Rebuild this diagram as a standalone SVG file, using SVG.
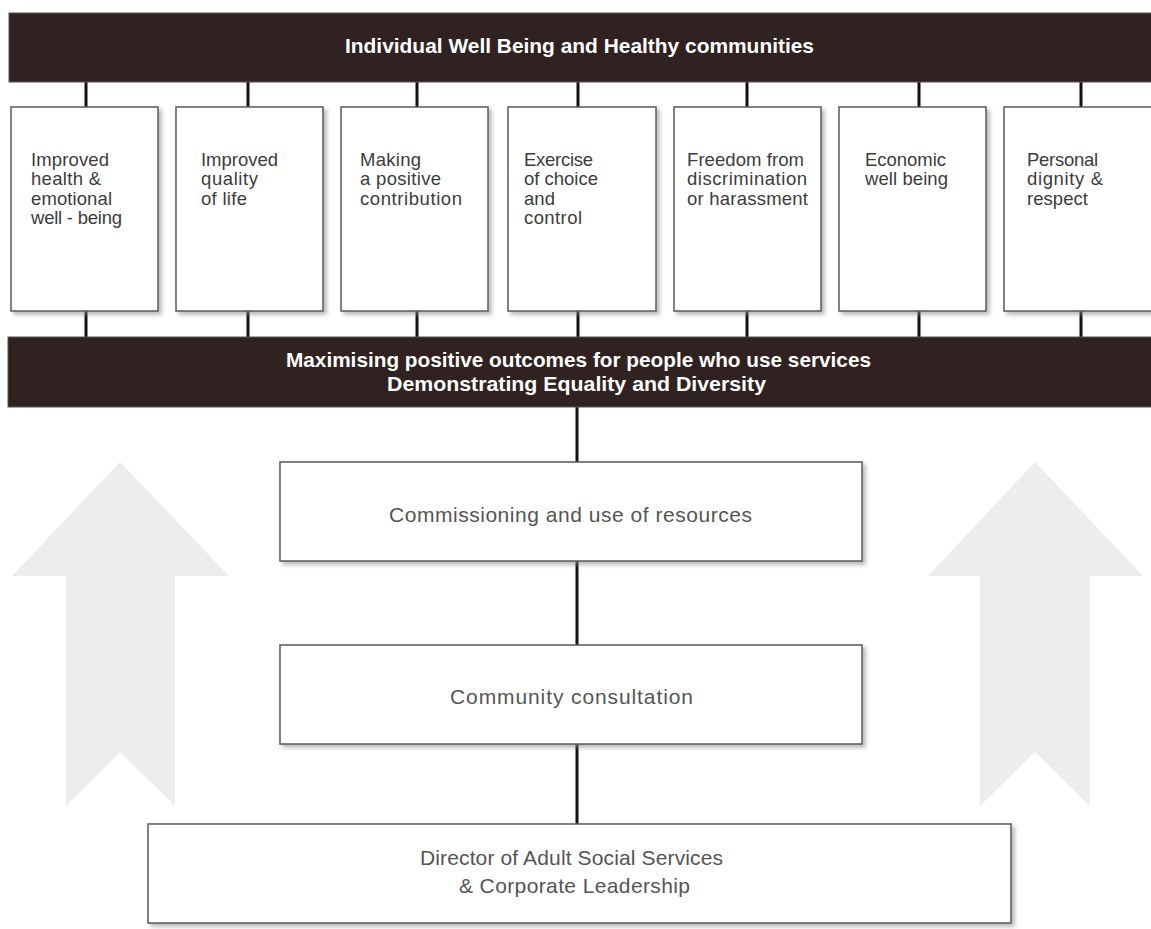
<svg xmlns="http://www.w3.org/2000/svg" width="1151" height="929" viewBox="0 0 1151 929">
<style>
.bar{fill:#2f2221;stroke:#555;stroke-width:1}
.bt{font-family:"Liberation Sans",Arial,sans-serif;font-weight:bold;font-size:21px;fill:#fff;text-anchor:middle}
.box{fill:#fff;stroke:#5a5a5a;stroke-width:1.5;filter:url(#sh)}
.st{font-family:"Liberation Sans",Arial,sans-serif;font-size:18.5px;fill:#3c3c3c}
.mt{font-family:"Liberation Sans",Arial,sans-serif;font-size:21px;fill:#555;text-anchor:middle}
.arr{fill:#ededed}
.con line{stroke:#111;stroke-width:3}
</style>
<defs>
<filter id="sh" x="-10%" y="-10%" width="130%" height="130%">
<feDropShadow dx="3" dy="3" stdDeviation="2" flood-color="#888" flood-opacity="0.6"/>
</filter>
</defs>
<rect width="1151" height="929" fill="#fff"/>
<g id="arrows">
<polygon class="arr" points="120,462 229,576 175,576 175,806 120,752 66,806 66,576 12,576"/>
<polygon class="arr" points="1035,462 1143,576 1090,576 1090,806 1035,752 980,806 980,576 928,576"/>
</g>
<g class="con" id="connectors">
<line x1="86" y1="82" x2="86" y2="107"/><line x1="248" y1="82" x2="248" y2="107"/>
<line x1="417" y1="82" x2="417" y2="107"/><line x1="578" y1="82" x2="578" y2="107"/>
<line x1="747" y1="82" x2="747" y2="107"/><line x1="919" y1="82" x2="919" y2="107"/>
<line x1="1081" y1="82" x2="1081" y2="107"/>
<line x1="86" y1="311" x2="86" y2="337"/><line x1="248" y1="311" x2="248" y2="337"/>
<line x1="417" y1="311" x2="417" y2="337"/><line x1="578" y1="311" x2="578" y2="337"/>
<line x1="747" y1="311" x2="747" y2="337"/><line x1="919" y1="311" x2="919" y2="337"/>
<line x1="1081" y1="311" x2="1081" y2="337"/>
<line x1="577" y1="407" x2="577" y2="462"/>
<line x1="577" y1="561" x2="577" y2="645"/>
<line x1="577" y1="744" x2="577" y2="824"/>
</g>
<g id="top-bar">
<rect class="bar" x="9" y="13" width="1145" height="69"/>
<text class="bt" x="579.5" y="53" textLength="469" lengthAdjust="spacingAndGlyphs">Individual Well Being and Healthy communities</text>
</g>
<g id="box1">
<rect class="box" x="11" y="107" width="147" height="204"/>
<text class="st"><tspan x="31" y="166" textLength="78">Improved</tspan><tspan x="31" y="185" textLength="70">health &amp;</tspan><tspan x="31" y="204.5" textLength="81">emotional</tspan><tspan x="31" y="224" textLength="91">well - being</tspan></text>
</g>
<g id="box2">
<rect class="box" x="176" y="107" width="147" height="204"/>
<text class="st"><tspan x="201" y="166" textLength="77">Improved</tspan><tspan x="201" y="185" textLength="57">quality</tspan><tspan x="201" y="204.5" textLength="46">of life</tspan></text>
</g>
<g id="box3">
<rect class="box" x="341" y="107" width="147" height="204"/>
<text class="st"><tspan x="360" y="166" textLength="61">Making</tspan><tspan x="360" y="185" textLength="81">a positive</tspan><tspan x="360" y="204.5" textLength="102">contribution</tspan></text>
</g>
<g id="box4">
<rect class="box" x="508" y="107" width="148" height="204"/>
<text class="st"><tspan x="524" y="166" textLength="69">Exercise</tspan><tspan x="524" y="185" textLength="74">of choice</tspan><tspan x="524" y="204.5" textLength="31">and</tspan><tspan x="524" y="224" textLength="58">control</tspan></text>
</g>
<g id="box5">
<rect class="box" x="674" y="107" width="147" height="204"/>
<text class="st"><tspan x="687" y="166" textLength="117">Freedom from</tspan><tspan x="687" y="185" textLength="120">discrimination</tspan><tspan x="687" y="204.5" textLength="121">or harassment</tspan></text>
</g>
<g id="box6">
<rect class="box" x="839" y="107" width="147" height="204"/>
<text class="st"><tspan x="865" y="166" textLength="81">Economic</tspan><tspan x="865" y="185" textLength="83">well being</tspan></text>
</g>
<g id="box7">
<rect class="box" x="1004" y="107" width="150" height="204"/>
<text class="st"><tspan x="1027" y="166" textLength="71">Personal</tspan><tspan x="1027" y="185" textLength="76">dignity &amp;</tspan><tspan x="1027" y="204.5" textLength="61">respect</tspan></text>
</g>
<g id="mid-bar">
<rect class="bar" x="8" y="337" width="1146" height="70"/>
<text class="bt"><tspan x="578.5" y="367" textLength="585" lengthAdjust="spacingAndGlyphs">Maximising positive outcomes for people who use services</tspan><tspan x="576.5" y="391" textLength="379" lengthAdjust="spacingAndGlyphs">Demonstrating Equality and Diversity</tspan></text>
</g>
<g id="commissioning">
<rect class="box" x="280" y="462" width="582" height="99"/>
<text class="mt" x="570.5" y="522" textLength="363">Commissioning and use of resources</text>
</g>
<g id="consultation">
<rect class="box" x="280" y="645" width="582" height="99"/>
<text class="mt" x="571.5" y="704" textLength="243">Community consultation</text>
</g>
<g id="director">
<rect class="box" x="148" y="824" width="863" height="99"/>
<text class="mt"><tspan x="571.5" y="865" textLength="303">Director of Adult Social Services</tspan><tspan x="574.5" y="893" textLength="231">&amp; Corporate Leadership</tspan></text>
</g>
</svg>
